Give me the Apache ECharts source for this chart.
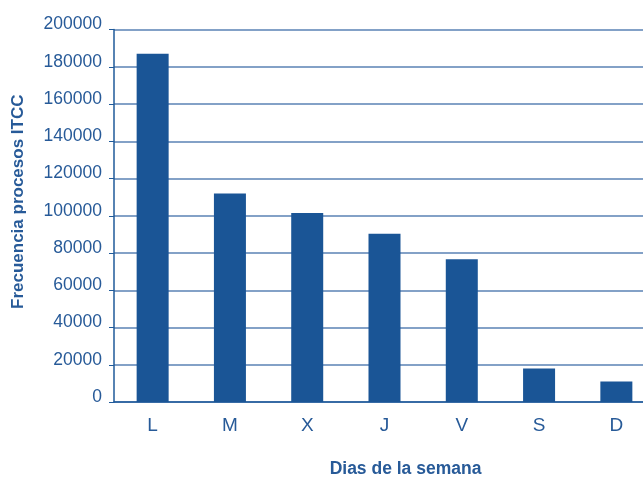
<!DOCTYPE html>
<html>
<head>
<meta charset="utf-8">
<script src="https://cdn.jsdelivr.net/npm/echarts@6/dist/echarts.min.js"></script>
<style>html,body{margin:0;padding:0;background:#fff;}#c{width:643px;height:477px;}</style>
</head>
<body>
<div id="c"></div>
<script>
const categories = ['L', 'M', 'X', 'J', 'V', 'S', 'D'];
const values = [187000, 112000, 101500, 90300, 76600, 18000, 11000];
const yTitle = 'Frecuencia procesos ITCC';
const xTitle = 'Dias de la semana';

const textColor = '#275a98';
const barColor = '#1a5596';
const chart = echarts.init(document.getElementById('c'), null, {renderer: 'canvas'});
chart.setOption({
  animation: false,
  grid: {left: 114, top: 29.5, bottom: 75, width: 541, containLabel: false, outerBoundsMode: 'none'},
  xAxis: {
    type: 'category',
    data: categories,
    axisLine: {show: true, lineStyle: {color: '#1f5a9a', width: 1.5}},
    axisTick: {show: false},
    axisLabel: {color: textColor, fontFamily: 'Liberation Sans', fontSize: 19, margin: 14},
    name: xTitle,
    nameLocation: 'middle',
    nameGap: 58,
    nameTextStyle: {color: textColor, fontFamily: 'Liberation Sans', fontSize: 17.5, fontWeight: 'bold', padding: [0, 0, 0, 42]}
  },
  yAxis: {
    type: 'value',
    min: 0, max: 200000, interval: 20000,
    axisLine: {show: true, lineStyle: {color: '#1f5a9a', width: 1.5}},
    axisTick: {show: true, length: 5, lineStyle: {color: '#1f5a9a'}},
    splitLine: {show: true, lineStyle: {color: '#5a82b4', width: 1.5}},
    axisLabel: {color: textColor, fontFamily: 'Liberation Sans', fontSize: 17.5, margin: 12, verticalAlign: 'bottom', lineHeight: 10, formatter: v => String(v)},
    name: yTitle,
    nameLocation: 'middle',
    nameGap: 87,
    nameTextStyle: {color: textColor, fontFamily: 'Liberation Sans', fontSize: 17, fontWeight: 'bold', padding: [0, 0, 0, 28]}
  },
  series: [{
    type: 'bar',
    data: values,
    barWidth: 32,
    itemStyle: {color: barColor}
  }]
});
</script>
</body>
</html>
